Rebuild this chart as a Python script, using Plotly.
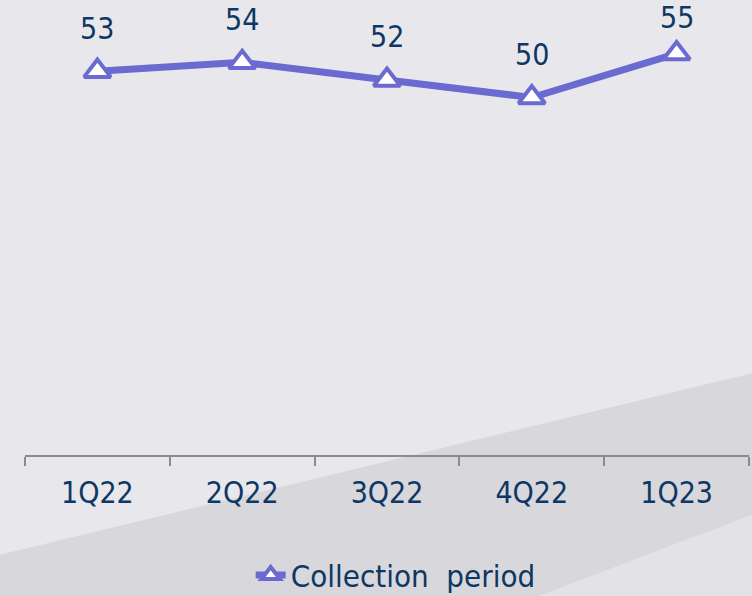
import plotly.graph_objects as go

categories = ["1Q22", "2Q22", "3Q22", "4Q22", "1Q23"]
collection_period = [53, 54, 52, 50, 55]
series_name = "Collection  period"

LINE = "#6b6ad0"
NAVY = "#0e3763"
FONT = "DejaVu Sans Condensed"

fig = go.Figure()
fig.add_trace(go.Scatter(
    x=categories, y=collection_period, name=series_name,
    mode="lines+markers",
    line=dict(color=LINE, width=7),
    marker=dict(symbol="triangle-up", size=23, color="white",
                line=dict(color=LINE, width=4)),
    cliponaxis=False,
))
top = max(collection_period)
for c, v in zip(categories, collection_period):
    fig.add_annotation(x=c, y=v, text=str(v), showarrow=False,
                       yshift=36 if v == top else 43,
                       font=dict(family=FONT, size=30, color=NAVY))

# subtle background diagonal band
fig.add_shape(type="path", xref="paper", yref="paper",
              path="M -0.05 -0.225 L 1.01 0.182 L 1.01 -0.128 L 0.693 -0.4 L -0.05 -0.4 Z",
              fillcolor="#d8d8dc", line_width=0, layer="below")
fig.add_shape(type="path", xref="paper", yref="paper",
              path="M 1.01 -0.128 L 0.693 -0.32 L 0.6 -0.4 L 1.01 -0.4 Z",
              fillcolor="#e3e3e7", line_width=0, layer="below")

fig.update_layout(
    width=752, height=596,
    margin=dict(l=25, r=3, t=0, b=141),
    paper_bgcolor="#e8e8ec", plot_bgcolor="rgba(0,0,0,0)",
    showlegend=True,
    legend=dict(orientation="h", x=0.512, xanchor="center", xref="paper",
                y=0.08, yanchor="top", yref="container",
                font=dict(family=FONT, size=31, color=NAVY),
                bgcolor="rgba(0,0,0,0)"),
    xaxis=dict(type="category", range=[-0.5, 4.5], showline=True, linecolor="#8c8c8c",
               linewidth=2, ticks="outside", tickson="boundaries", ticklen=9,
               tickwidth=2, tickcolor="#8c8c8c", showgrid=False,
               tickfont=dict(family=FONT, size=30, color=NAVY), ticklabelstandoff=10),
    yaxis=dict(range=[9.3, 61.1], visible=False, showgrid=False),
)
fig.write_html("out.html", config={"displayModeBar": False},
               post_script="document.body.style.margin='0';")
